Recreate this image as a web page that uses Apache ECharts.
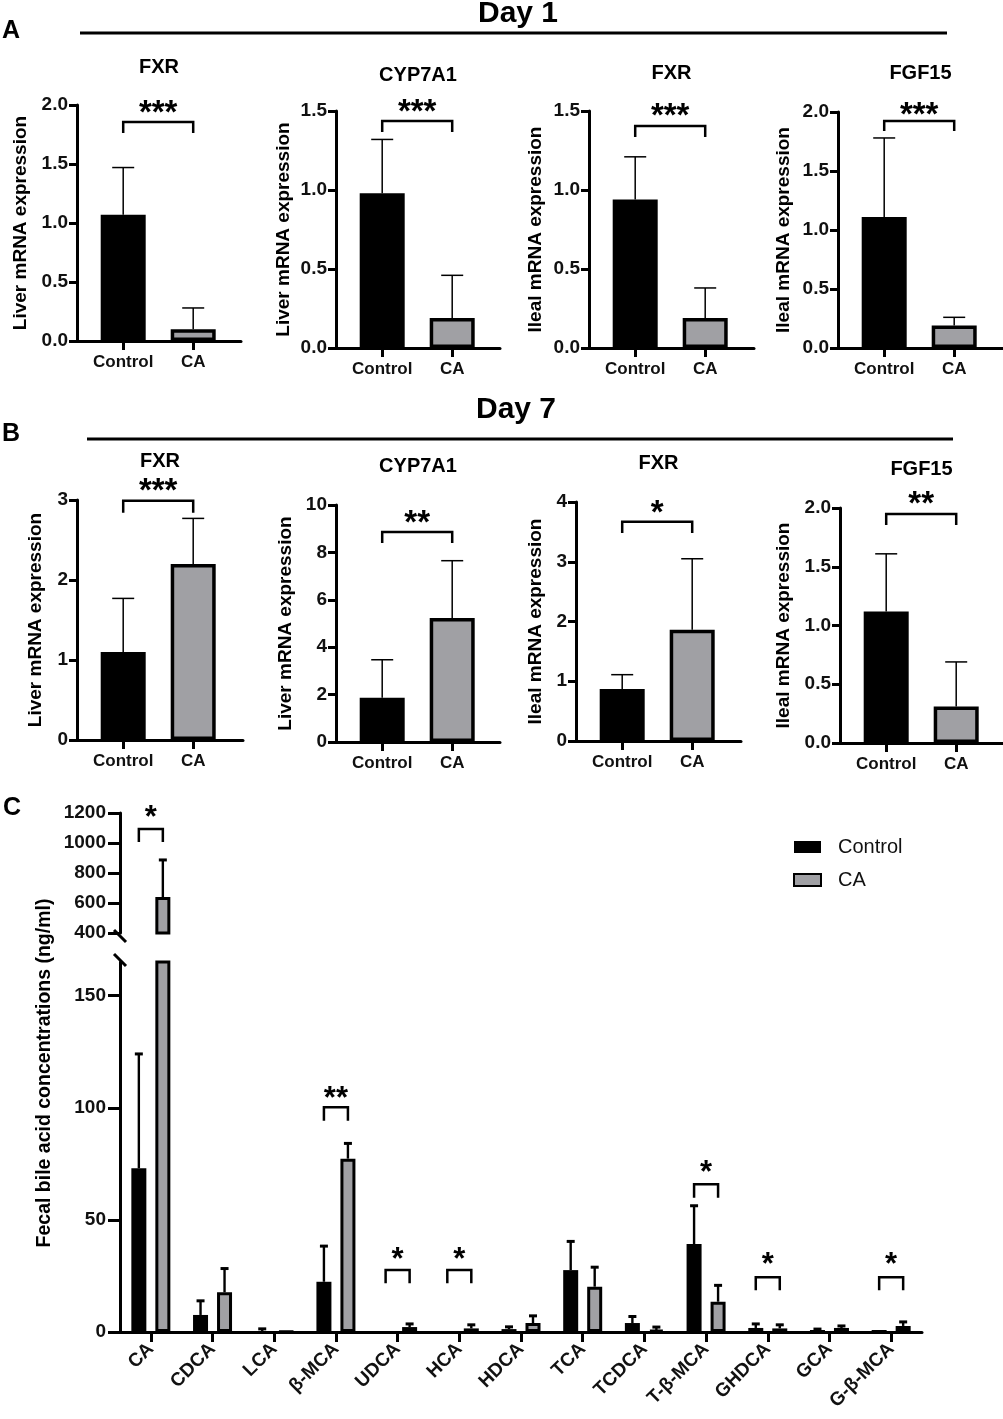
<!DOCTYPE html>
<html><head><meta charset="utf-8">
<script src="https://cdn.jsdelivr.net/npm/echarts@6/dist/echarts.min.js"></script>
<style>html,body{margin:0;padding:0;background:#fff}#c{width:1003px;height:1419px}</style>
</head><body><div id="c"></div>
<script>
// ---------- DATA ----------
const groups = ['Control', 'CA'];
const panelTitles = ['FXR', 'CYP7A1', 'FXR', 'FGF15', 'FXR', 'CYP7A1', 'FXR', 'FGF15'];
const yNames = ['Liver mRNA expression', 'Liver mRNA expression', 'Ileal mRNA expression', 'Ileal mRNA expression',
                'Liver mRNA expression', 'Liver mRNA expression', 'Ileal mRNA expression', 'Ileal mRNA expression'];
const meansAB = [[1.07, 0.10], [0.98, 0.19], [0.94, 0.19], [1.11, 0.19],
                 [1.10, 2.20], [1.87, 5.23], [0.87, 1.86], [1.12, 0.31]];
const errAB   = [[1.47, 0.28], [1.32, 0.46], [1.21, 0.38], [1.78, 0.26],
                 [1.77, 2.77], [3.47, 7.65], [1.11, 3.05], [1.61, 0.69]];
const yMaxAB  = [2.0, 1.5, 1.5, 2.0, 3, 10, 4, 2.0];
const yStepAB = [0.5, 0.5, 0.5, 0.5, 1, 2, 1, 0.5];
const starsAB = ['***', '***', '***', '***', '***', '**', '*', '**'];
// bracket: [top, leg end, star centre] in axis units
const bracketAB = [[1.856, 1.763, 1.98], [1.437, 1.367, 1.53], [1.405, 1.335, 1.506], [1.924, 1.84, 2.03],
                   [2.99, 2.84, 3.19], [8.86, 8.4, 9.5], [3.67, 3.48, 3.92], [1.95, 1.855, 2.085]];

const acids    = ['CA', 'CDCA', 'LCA', 'β-MCA', 'UDCA', 'HCA', 'HDCA', 'TCA', 'TCDCA', 'T-β-MCA', 'GHDCA', 'GCA', 'G-β-MCA'];
const ctrlMean = [73, 7.6, 0.3, 22.4, 0.2, 0.1, 1.3, 27.6, 4.0, 39.2, 1.8, 0.9, 0.9];
const ctrlErr  = [124, 13.9, 1.4, 38.3, 0.2, 0.1, 2.3, 40.4, 6.9, 56.3, 3.6, 1.3, 0.9];
const caMean   = [640, 17.7, 0.2, 77.3, 2.2, 1.6, 4.0, 20.2, 0.9, 13.5, 1.6, 1.8, 2.7];
const caErr    = [887, 28.3, 0.2, 84.1, 3.6, 3.2, 7.2, 28.9, 2.2, 20.8, 3.2, 2.7, 4.5];
// significance: [category index, top, leg end, star centre]
const sigCIdx   = [0, 3, 4, 5, 9, 10, 12];
const sigCTop   = [1093, 100.2, 27.6, 27.6, 65.9, 24.4, 24.4];
const sigCLeg   = [1007, 94.2, 21.7, 21.7, 59.9, 18.6, 18.6];
const sigCStar  = [1207, 107, 35, 35, 74, 33, 33];
const sigCText  = ['*', '**', '*', '*', '*', '*', '*'];
const cTicksLower = [0, 50, 100, 150];
const cTicksUpper = [400, 600, 800, 1000, 1200];
const cLowerMax = 165, cUpperMin = 400, cUpperMax = 1200;

// ---------- LAYOUT / STYLE ----------
const FONT = 'Liberation Sans, Arial, Helvetica, sans-serif';
const GRAY = '#a0a0a4';
const layouts = [
  {left: 77, right: 241, top: 105, bottom: 341, titleY: 67, nameGap: 47},
  {left: 336, right: 500, top: 111, bottom: 348, titleY: 75, nameGap: 43},
  {left: 589, right: 754, top: 111, bottom: 348, titleY: 73, nameGap: 44},
  {left: 838, right: 1003, top: 112, bottom: 348, titleY: 73, nameGap: 45},
  {left: 77, right: 243, top: 500, bottom: 740, titleY: 461, nameGap: 32},
  {left: 336, right: 500, top: 505, bottom: 742, titleY: 466, nameGap: 41},
  {left: 576, right: 741, top: 502, bottom: 741, titleY: 463, nameGap: 31},
  {left: 840, right: 1003, top: 508, bottom: 743, titleY: 469, nameGap: 47}
];
const PX_PER_GROUP = 70, X0 = -0.66;

const chart = echarts.init(document.getElementById('c'), null, {renderer: 'canvas'});
const grid = [], xAxis = [], yAxis = [], series = [], graphic = [];

function txt(x, y, text, size, weight, extra) {
  return Object.assign({
    type: 'text', x: x, y: y, silent: true,
    style: {text: text, fill: '#000', font: (weight || 'bold') + ' ' + size + 'px ' + FONT,
            textAlign: 'center', textVerticalAlign: 'middle', align: 'center', verticalAlign: 'middle'}
  }, extra || {});
}

layouts.forEach((L, i) => {
  const w = L.right - L.left, h = L.bottom - L.top;
  grid.push({left: L.left, top: L.top, width: w, height: h});
  xAxis.push({
    type: 'value', gridIndex: i, min: X0, max: X0 + w / PX_PER_GROUP,
    splitLine: {show: false},
    axisLine: {show: true, onZero: false, lineStyle: {color: '#000', width: 3}},
    axisTick: {show: true, customValues: [0, 1], length: 9, lineStyle: {color: '#000', width: 3}},
    axisLabel: {customValues: [0, 1], formatter: v => groups[Math.round(v)], margin: 13,
                fontFamily: FONT, fontWeight: 'bold', fontSize: 17, color: '#111'}
  });
  const dec = yStepAB[i] < 1 ? 1 : 0;
  yAxis.push({
    type: 'value', gridIndex: i, min: 0, max: yMaxAB[i], interval: yStepAB[i],
    name: yNames[i], nameLocation: 'middle', nameGap: L.nameGap,
    nameTextStyle: {fontFamily: FONT, fontWeight: 'bold', fontSize: 19, color: '#000'},
    splitLine: {show: false},
    axisLine: {show: true, onZero: false, lineStyle: {color: '#000', width: 3}},
    axisTick: {show: true, length: 8, lineStyle: {color: '#000', width: 3}},
    axisLabel: {formatter: v => v.toFixed(dec), margin: 9,
                fontFamily: FONT, fontWeight: 'bold', fontSize: 19, color: '#111'}
  });
  series.push({
    type: 'bar', xAxisIndex: i, yAxisIndex: i, barWidth: 45, silent: true,
    data: meansAB[i].map((v, j) => ({
      value: [j, v],
      itemStyle: j === 0 ? {color: '#000'} : {color: GRAY, borderColor: '#000', borderWidth: 3.5}
    }))
  });
  series.push({
    type: 'custom', xAxisIndex: i, yAxisIndex: i, silent: true, z: 1,
    data: meansAB[i].map((v, j) => [j, v, errAB[i][j]]),
    renderItem: (params, api) => {
      const c = api.coord([api.value(0), api.value(1)]);
      const t = api.coord([api.value(0), api.value(2)]);
      const st = {stroke: '#000', lineWidth: 1.5};
      return {type: 'group', children: [
        {type: 'line', shape: {x1: c[0], y1: c[1], x2: c[0], y2: t[1]}, style: st},
        {type: 'line', shape: {x1: c[0] - 11, y1: t[1], x2: c[0] + 11, y2: t[1]}, style: st}
      ]};
    }
  });
  const B = bracketAB[i];
  series.push({
    type: 'custom', xAxisIndex: i, yAxisIndex: i, silent: true, clip: false,
    data: [[0, 1, B[0], B[1], B[2]]],
    renderItem: (params, api) => {
      const a = api.coord([api.value(0), api.value(2)]);
      const b = api.coord([api.value(1), api.value(2)]);
      const l = api.coord([api.value(0), api.value(3)]);
      const s = api.coord([(api.value(0) + api.value(1)) / 2, api.value(4)]);
      return {type: 'group', children: [
        {type: 'polyline', shape: {points: [[a[0], l[1]], [a[0], a[1]], [b[0], a[1]], [b[0], l[1]]]},
         style: {stroke: '#000', lineWidth: 2.5, fill: 'none'}},
        {type: 'text', x: s[0], y: s[1] + 7,
         style: {text: starsAB[i], fill: '#000', font: 'bold 33px ' + FONT,
                 textAlign: 'center', textVerticalAlign: 'middle', align: 'center', verticalAlign: 'middle'}}
      ]};
    }
  });
  graphic.push(txt((L.left + L.right) / 2, L.titleY, panelTitles[i], 20));
});

// ---------- PANEL C ----------
const CL = 8, CU = 9;
const cLeft = 120, cWidth = 802;
grid.push({left: cLeft, top: 962, width: cWidth, height: 370});
grid.push({left: cLeft, top: 813, width: cWidth, height: 120});
xAxis.push({
  type: 'category', gridIndex: CL, data: acids, boundaryGap: true,
  axisLine: {show: true, lineStyle: {color: '#000', width: 3}},
  axisTick: {show: true, alignWithLabel: true, length: 10, lineStyle: {color: '#000', width: 3}},
  axisLabel: {interval: 0, rotate: 45, margin: 14, fontFamily: FONT, fontWeight: 'bold', fontSize: 19, color: '#111'}
});
xAxis.push({type: 'category', gridIndex: CU, data: acids, boundaryGap: true, show: false});
yAxis.push({
  type: 'value', gridIndex: CL, min: 0, max: cLowerMax, splitLine: {show: false},
  axisLine: {show: true, onZero: false, lineStyle: {color: '#000', width: 3}},
  axisTick: {show: true, customValues: cTicksLower, length: 12, lineStyle: {color: '#000', width: 3}},
  axisLabel: {customValues: cTicksLower, formatter: v => String(v), margin: 14,
              fontFamily: FONT, fontWeight: 'bold', fontSize: 19, color: '#111'}
});
yAxis.push({
  type: 'value', gridIndex: CU, min: cUpperMin, max: cUpperMax, interval: 200, splitLine: {show: false},
  axisLine: {show: true, onZero: false, lineStyle: {color: '#000', width: 3}},
  axisTick: {show: true, customValues: cTicksUpper, length: 12, lineStyle: {color: '#000', width: 3}},
  axisLabel: {customValues: cTicksUpper, formatter: v => String(v), margin: 14,
              fontFamily: FONT, fontWeight: 'bold', fontSize: 19, color: '#111'}
});
const ctrlStyle = {color: '#000'};
const caStyle = {color: GRAY, borderColor: '#000', borderWidth: 3};
const BW = 15, BGAP = '60%', OFF = 12;
series.push({name: 'Control', type: 'bar', xAxisIndex: CL, yAxisIndex: CL, data: ctrlMean,
             barWidth: BW, barGap: BGAP, itemStyle: ctrlStyle, clip: true, silent: true});
series.push({name: 'CA', type: 'bar', xAxisIndex: CL, yAxisIndex: CL, data: caMean,
             barWidth: BW, barGap: BGAP, itemStyle: caStyle, clip: true, silent: true});
series.push({name: 'Control-up', type: 'bar', xAxisIndex: CU, yAxisIndex: CU,
             data: ctrlMean.map(v => v > cUpperMin ? v : '-'),
             barWidth: BW, barGap: BGAP, itemStyle: ctrlStyle, clip: true, silent: true});
series.push({name: 'CA-up', type: 'bar', xAxisIndex: CU, yAxisIndex: CU,
             data: caMean.map(v => v > cUpperMin ? v : '-'),
             barWidth: BW, barGap: BGAP, itemStyle: caStyle, clip: true, silent: true});

function errRowsC(upper) {
  const rows = [];
  acids.forEach((a, k) => {
    [[ctrlMean, ctrlErr, -1], [caMean, caErr, 1]].forEach(([m, e, side]) => {
      const inUpper = m[k] > cUpperMin;
      if (inUpper === upper && e[k] > m[k]) rows.push([k, m[k], e[k], side]);
    });
  });
  return rows;
}
function errRenderC(params, api) {
  const c = api.coord([api.value(0), api.value(1)]);
  const t = api.coord([api.value(0), api.value(2)]);
  const x = c[0] + api.value(3) * OFF;
  const st = {stroke: '#000', lineWidth: 2.4};
  return {type: 'group', children: [
    {type: 'line', shape: {x1: x, y1: c[1], x2: x, y2: t[1]}, style: st},
    {type: 'line', shape: {x1: x - 4, y1: t[1], x2: x + 4, y2: t[1]}, style: {stroke: '#000', lineWidth: 3}}
  ]};
}
series.push({type: 'custom', xAxisIndex: CL, yAxisIndex: CL, silent: true, data: errRowsC(false), renderItem: errRenderC});
series.push({type: 'custom', xAxisIndex: CU, yAxisIndex: CU, silent: true, data: errRowsC(true), renderItem: errRenderC});

function sigRowsC(upper) {
  const rows = [];
  sigCIdx.forEach((k, n) => {
    if ((sigCTop[n] > cUpperMin) === upper) rows.push([k, sigCTop[n], sigCLeg[n], sigCStar[n], n]);
  });
  return rows;
}
function sigRenderC(params, api) {
  const a = api.coord([api.value(0), api.value(1)]);
  const l = api.coord([api.value(0), api.value(2)]);
  const s = api.coord([api.value(0), api.value(3)]);
  const n = api.value(4);
  return {type: 'group', children: [
    {type: 'polyline', shape: {points: [[a[0] - OFF, l[1]], [a[0] - OFF, a[1]], [a[0] + OFF, a[1]], [a[0] + OFF, l[1]]]},
     style: {stroke: '#000', lineWidth: 2.5, fill: 'none'}},
    {type: 'text', x: a[0], y: s[1] + 7,
     style: {text: sigCText[n], fill: '#000', font: 'bold 31px ' + FONT,
             textAlign: 'center', textVerticalAlign: 'middle', align: 'center', verticalAlign: 'middle'}}
  ]};
}
series.push({type: 'custom', xAxisIndex: CL, yAxisIndex: CL, silent: true, clip: false, data: sigRowsC(false), renderItem: sigRenderC});
series.push({type: 'custom', xAxisIndex: CU, yAxisIndex: CU, silent: true, clip: false, data: sigRowsC(true), renderItem: sigRenderC});

// ---------- headers ----------
graphic.push(txt(518, 14, 'Day 1', 30));
graphic.push({type: 'line', silent: true, shape: {x1: 80, y1: 33, x2: 947, y2: 33}, style: {stroke: '#000', lineWidth: 3}});
graphic.push(txt(516, 410, 'Day 7', 30));
graphic.push({type: 'line', silent: true, shape: {x1: 87, y1: 439, x2: 953, y2: 439}, style: {stroke: '#000', lineWidth: 3}});
graphic.push(txt(11, 31, 'A', 25));
graphic.push(txt(11, 434, 'B', 25));
graphic.push(txt(12, 808, 'C', 25));
graphic.push(txt(45, 1073, 'Fecal bile acid concentrations (ng/ml)', 19.5, 'bold', {rotation: Math.PI / 2}));

chart.setOption({
  animation: false,
  backgroundColor: '#fff',
  grid: grid, xAxis: xAxis, yAxis: yAxis, series: series, graphic: graphic,
  legend: {
    data: ['Control', 'CA'], orient: 'vertical', left: 788, top: 832, icon: 'rect',
    itemWidth: 27, itemHeight: 12, itemGap: 13, selectedMode: false,
    textStyle: {fontFamily: FONT, fontSize: 20, color: '#111', padding: [0, 0, 0, 12]}
  }
});

// axis break marks, placed from the axes' own scales
const axX = cLeft;
const yUp = chart.convertToPixel({yAxisIndex: CU}, cUpperMin);
const yLo = chart.convertToPixel({yAxisIndex: CL}, cLowerMax);
chart.setOption({graphic: graphic.concat([
  {type: 'line', silent: true, shape: {x1: axX - 6, y1: yUp - 3, x2: axX + 6, y2: yUp + 9}, style: {stroke: '#000', lineWidth: 3}},
  {type: 'line', silent: true, shape: {x1: axX - 6, y1: yLo - 8, x2: axX + 6, y2: yLo + 4}, style: {stroke: '#000', lineWidth: 3}}
])});
</script>
</body></html>
